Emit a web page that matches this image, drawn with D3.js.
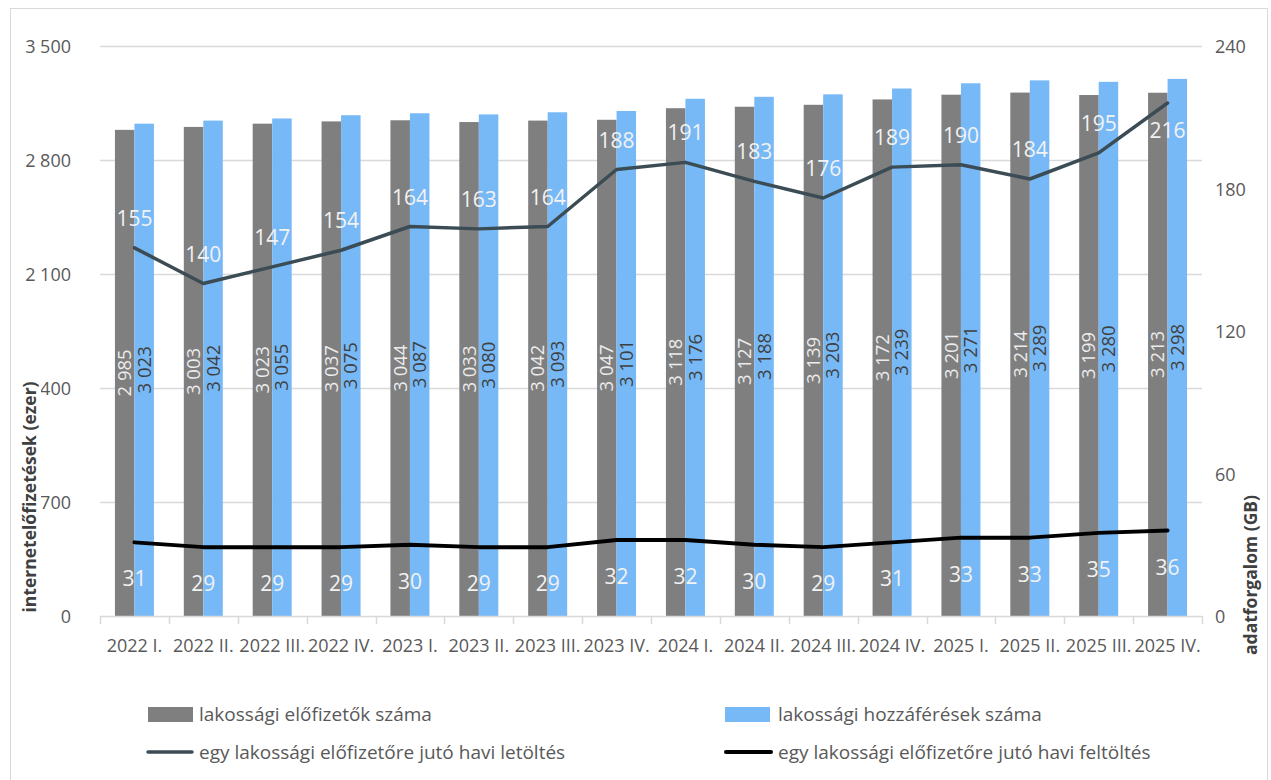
<!DOCTYPE html>
<html lang="hu">
<head>
    <meta charset="UTF-8">
    <title>Internetelőfizetések</title>
    <script src="https://d3js.org/d3.v7.min.js"></script>
    <style>
        body { margin: 0; background: #fff; }
        svg text { font-family: "Open Sans", Roboto, sans-serif; }
        .tick-label { font-size: 18px; fill: #595959; }
        .cat-label { font-size: 18px; fill: #595959; }
        .axis-title { font-size: 17.5px; font-weight: bold; fill: #404040; }
        .legend-text { font-size: 19px; fill: #595959; }
    </style>
</head>
<body>
<div id="chart"></div>
<script>
    // Data
    const categories = ["2022 I.", "2022 II.", "2022 III.", "2022 IV.", "2023 I.", "2023 II.", "2023 III.", "2023 IV.",
        "2024 I.", "2024 II.", "2024 III.", "2024 IV.", "2025 I.", "2025 II.", "2025 III.", "2025 IV."];
    const subscribers = [2985, 3003, 3023, 3037, 3044, 3033, 3042, 3047, 3118, 3127, 3139, 3172, 3201, 3214, 3199, 3213];
    const accesses = [3023, 3042, 3055, 3075, 3087, 3080, 3093, 3101, 3176, 3188, 3203, 3239, 3271, 3289, 3280, 3298];
    const download = [155, 140, 147, 154, 164, 163, 164, 188, 191, 183, 176, 189, 190, 184, 195, 216];
    const upload = [31, 29, 29, 29, 30, 29, 29, 32, 32, 30, 29, 31, 33, 33, 35, 36];
    const leftTicks = [0, 700, 1400, 2100, 2800, 3500];
    const rightTicks = [0, 60, 120, 180, 240];

    const width = 1271, height = 780;
    const plot = {left: 100, right: 1202, top: 46, bottom: 616};

    const svg = d3.select("#chart").append("svg")
        .attr("width", width)
        .attr("height", height);

    // outer frame
    svg.append("rect")
        .attr("x", 10.5).attr("y", 8.5)
        .attr("width", 1257).attr("height", 790)
        .attr("fill", "none")
        .attr("stroke", "#d9d9d9");

    const x = d3.scaleBand().domain(categories).range([plot.left, plot.right]);
    const barW = 19.5;
    const yL = d3.scaleLinear().domain([0, 3500]).range([plot.bottom, plot.top]);
    const yR = d3.scaleLinear().domain([0, 240]).range([plot.bottom, plot.top]);
    const fmt = v => d3.format(",")(v).replace(",", " ");

    // gridlines
    svg.append("g").selectAll("line")
        .data(leftTicks.filter(d => d > 0))
        .join("line")
        .attr("x1", plot.left).attr("x2", plot.right)
        .attr("y1", d => Math.round(yL(d)) + 0.5).attr("y2", d => Math.round(yL(d)) + 0.5)
        .attr("stroke", "#d9d9d9").attr("stroke-width", 1.5);

    // bars
    const cx = d => x(d) + x.bandwidth() / 2;
    svg.append("g").selectAll("rect")
        .data(categories)
        .join("rect")
        .attr("x", d => cx(d) - barW)
        .attr("y", (d, i) => yL(subscribers[i]))
        .attr("width", barW)
        .attr("height", (d, i) => yL(0) - yL(subscribers[i]))
        .attr("fill", "#7f7f7f");

    svg.append("g").selectAll("rect")
        .data(categories)
        .join("rect")
        .attr("x", d => cx(d))
        .attr("y", (d, i) => yL(accesses[i]))
        .attr("width", barW)
        .attr("height", (d, i) => yL(0) - yL(accesses[i]))
        .attr("fill", "#77b9f7");

    // bar value labels (rotated, centred in the bar)
    svg.append("g").selectAll("text")
        .data(categories)
        .join("text")
        .attr("transform", (d, i) => `translate(${cx(d) - barW / 2 + 6.5},${(yL(subscribers[i]) + yL(0)) / 2}) rotate(-90)`)
        .attr("text-anchor", "middle")
        .style("font-size", "18.5px")
        .attr("fill", "#ececec")
        .text((d, i) => fmt(subscribers[i]));

    svg.append("g").selectAll("text")
        .data(categories)
        .join("text")
        .attr("transform", (d, i) => `translate(${cx(d) + barW / 2 + 6.5},${(yL(accesses[i]) + yL(0)) / 2}) rotate(-90)`)
        .attr("text-anchor", "middle")
        .style("font-size", "18.5px")
        .attr("fill", "#404040")
        .text((d, i) => fmt(accesses[i]));

    // lines
    const line = d3.line().x((d, i) => cx(categories[i])).y(d => yR(d));
    svg.append("path").datum(download)
        .attr("d", line).attr("fill", "none")
        .attr("stroke", "#3b4c55").attr("stroke-width", 3.5)
        .attr("stroke-linejoin", "round").attr("stroke-linecap", "round");
    svg.append("path").datum(upload)
        .attr("d", line).attr("fill", "none")
        .attr("stroke", "#000").attr("stroke-width", 4)
        .attr("stroke-linejoin", "round").attr("stroke-linecap", "round");

    // line labels
    svg.append("g").selectAll("text")
        .data(download)
        .join("text")
        .attr("x", (d, i) => cx(categories[i]))
        .attr("y", d => d > 200 ? yR(d) + 35 : yR(d) - 22)
        .attr("text-anchor", "middle")
        .style("font-size", "21px")
        .attr("fill", "#f2f2f2")
        .text(d => d);

    svg.append("g").selectAll("text")
        .data(upload)
        .join("text")
        .attr("x", (d, i) => cx(categories[i]))
        .attr("y", d => yR(d) + 44)
        .attr("text-anchor", "middle")
        .style("font-size", "21px")
        .attr("fill", "#f2f2f2")
        .text(d => d);

    // x axis
    svg.append("line")
        .attr("x1", plot.left).attr("x2", plot.right)
        .attr("y1", plot.bottom + 0.5).attr("y2", plot.bottom + 0.5)
        .attr("stroke", "#d9d9d9").attr("stroke-width", 1.5);
    const boundaries = categories.map(d => x(d)).concat([plot.right]);
    svg.append("g").selectAll("line")
        .data(boundaries)
        .join("line")
        .attr("x1", d => Math.round(d) + 0.5).attr("x2", d => Math.round(d) + 0.5)
        .attr("y1", plot.bottom).attr("y2", plot.bottom + 8)
        .attr("stroke", "#d9d9d9").attr("stroke-width", 1.5);
    svg.append("g").selectAll("text")
        .data(categories)
        .join("text")
        .attr("class", "cat-label")
        .attr("x", d => cx(d))
        .attr("y", 652)
        .attr("text-anchor", "middle")
        .text(d => d);

    // left axis labels
    svg.append("g").selectAll("text")
        .data(leftTicks)
        .join("text")
        .attr("class", "tick-label")
        .attr("x", 71)
        .attr("y", d => yL(d) + 7)
        .attr("text-anchor", "end")
        .text(d => fmt(d));

    // right axis labels
    svg.append("g").selectAll("text")
        .data(rightTicks)
        .join("text")
        .attr("class", "tick-label")
        .attr("x", 1215)
        .attr("y", d => yR(d) + 7)
        .attr("text-anchor", "start")
        .text(d => d);

    // axis titles (left one sits over the "1 " of 1 400, as in the original)
    const leftTitle = svg.append("g").attr("transform", "translate(36,497) rotate(-90)");
    leftTitle.append("rect")
        .attr("x", -126).attr("y", -18).attr("width", 252).attr("height", 23)
        .attr("fill", "#fff");
    leftTitle.append("text")
        .attr("class", "axis-title")
        .attr("text-anchor", "middle")
        .text("internetelőfizetések (ezer)");

    svg.append("text")
        .attr("class", "axis-title")
        .attr("transform", "translate(1257,575) rotate(-90)")
        .attr("text-anchor", "middle")
        .text("adatforgalom (GB)");

    // legend
    const legend = svg.append("g");
    legend.append("rect").attr("x", 148).attr("y", 707).attr("width", 45).attr("height", 15).attr("fill", "#7f7f7f");
    legend.append("text").attr("class", "legend-text").attr("x", 199).attr("y", 721).text("lakossági előfizetők száma");
    legend.append("rect").attr("x", 725).attr("y", 707).attr("width", 45).attr("height", 15).attr("fill", "#77b9f7");
    legend.append("text").attr("class", "legend-text").attr("x", 778).attr("y", 721).text("lakossági hozzáférések száma");
    legend.append("line").attr("x1", 148).attr("x2", 192).attr("y1", 752).attr("y2", 752)
        .attr("stroke", "#3b4c55").attr("stroke-width", 3.5).attr("stroke-linecap", "round");
    legend.append("text").attr("class", "legend-text").attr("x", 199).attr("y", 759).text("egy lakossági előfizetőre jutó havi letöltés");
    legend.append("line").attr("x1", 726).attr("x2", 771).attr("y1", 752).attr("y2", 752)
        .attr("stroke", "#000").attr("stroke-width", 4).attr("stroke-linecap", "round");
    legend.append("text").attr("class", "legend-text").attr("x", 778).attr("y", 759).text("egy lakossági előfizetőre jutó havi feltöltés");
</script>
</body>
</html>
